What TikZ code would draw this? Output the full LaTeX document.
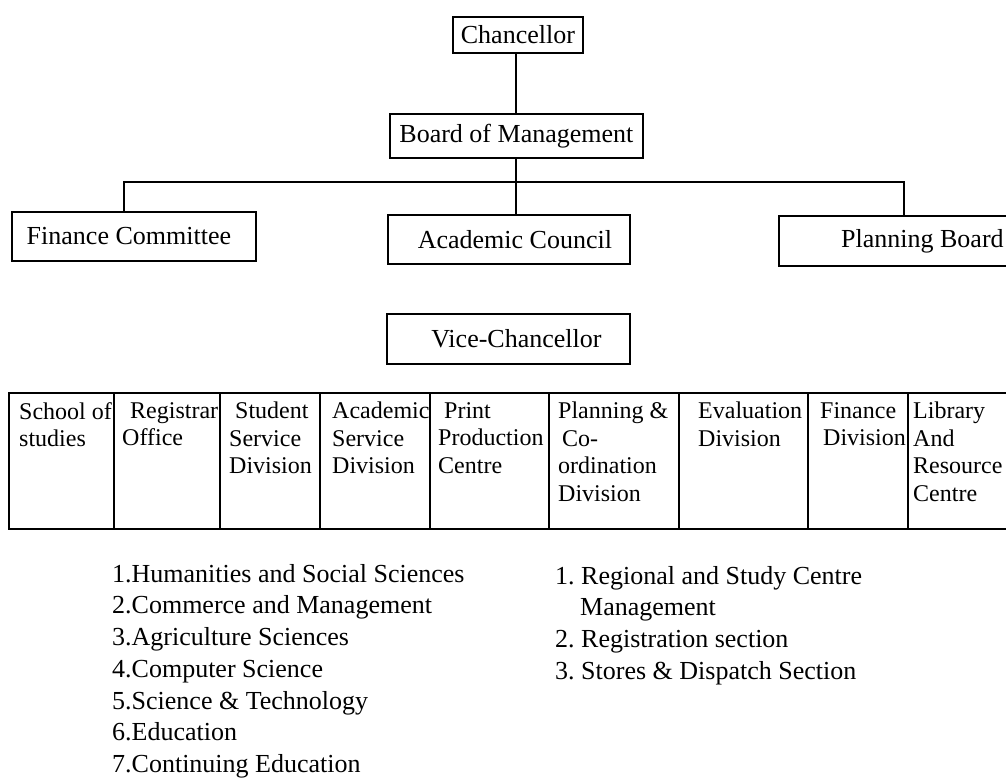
\documentclass[tikz,border=0pt]{standalone}
\usepackage{fontspec}
\setmainfont{Liberation Serif}
\frenchspacing
\begin{document}
\begin{tikzpicture}[x=1pt,y=-1pt,
  box/.style={draw, line width=1.8pt, rectangle, inner sep=0pt, anchor=north west,
    font=\fontsize{26}{30}\selectfont},
  link/.style={line width=2pt},
  cell/.style={draw, line width=1.8pt, rectangle, inner sep=0pt, anchor=north west,
    minimum height=136pt},
  celltxt/.style={anchor=north west, inner sep=0pt, align=left,
    font=\fontsize{24}{27.5}\selectfont, execute at begin node=\strut},
  listtxt/.style={anchor=north west, inner sep=0pt, align=left,
    font=\fontsize{26}{31.7}\selectfont, execute at begin node=\strut}
]
\useasboundingbox (0,0) rectangle (1006,779);
\clip (0,0) rectangle (1006,779);
\fill[white] (0,0) rectangle (1006,779);

% top hierarchy
\node[box, minimum width=130pt, minimum height=36pt] (chan) at (452,16) {Chancellor};
\node[box, minimum width=253pt, minimum height=44pt] (board) at (389,113) {Board of Management};
\node[box, minimum width=244pt, minimum height=49pt] (fin) at (11,211) {Finance Committee\hspace*{10pt}};
\node[box, minimum width=242pt, minimum height=49pt] (acad) at (387,214) {\hspace*{12pt}Academic Council};
\node[box, minimum width=262pt, minimum height=50pt] (plan) at (778,215) {\hspace*{62pt}Planning Board\hspace*{37pt}};
\node[box, minimum width=243pt, minimum height=50pt] (vc) at (386,313) {\hspace*{16pt}Vice-Chancellor};

\coordinate (barL) at (124,182);
\coordinate (barR) at (904,182);
\coordinate (barC) at (516,182);

\draw[link] (chan.south -| barC) -- (barC |- board.north);
\draw[link] (board.south -| barC) -- (barC);
\draw[link] (barL |- fin.north) -- (barL) -- (barR) -- (barR |- plan.north);
\draw[link] (barC) -- (barC |- acad.north);

% table of divisions
\node[cell, minimum width=105pt] (c1) at (8,392) {};
\node[cell, minimum width=106pt] (c2) at (113,392) {};
\node[cell, minimum width=100pt] (c3) at (219,392) {};
\node[cell, minimum width=110pt] (c4) at (319,392) {};
\node[cell, minimum width=119pt] (c5) at (429,392) {};
\node[cell, minimum width=130pt] (c6) at (548,392) {};
\node[cell, minimum width=129pt] (c7) at (678,392) {};
\node[cell, minimum width=100pt] (c8) at (807,392) {};
\node[cell, minimum width=123pt] (c9) at (907,392) {};

\node[celltxt] (t1) at ([xshift=11pt,yshift=-10pt]c1.north west) {School of\\studies};
\node[celltxt] (t2) at ([xshift=9pt,yshift=-10pt]c2.north west) {\hspace*{8pt}Registrar\\Office};
\node[celltxt] (t3) at ([xshift=10pt,yshift=-10pt]c3.north west) {\hspace*{6pt}Student\\Service\\Division};
\node[celltxt] (t4) at ([xshift=13pt,yshift=-10pt]c4.north west) {Academic\\Service\\Division};
\node[celltxt] (t5) at ([xshift=9pt,yshift=-10pt]c5.north west) {\hspace*{6pt}Print\\Production\\Centre};
\node[celltxt] (t6) at ([xshift=10pt,yshift=-10pt]c6.north west) {Planning \&\\\hspace*{4pt}Co-\\ordination\\Division};
\node[celltxt] (t7) at ([xshift=20pt,yshift=-10pt]c7.north west) {Evaluation\\Division};
\node[celltxt] (t8) at ([xshift=13pt,yshift=-10pt]c8.north west) {Finance\\\hspace*{3pt}Division};
\node[celltxt] (t9) at ([xshift=6pt,yshift=-10pt]c9.north west) {Library\\And\\Resource\\Centre};

% lists
\node[listtxt] (schools) at (112,564) {1.Humanities and Social Sciences\\2.Commerce and Management\\3.Agriculture Sciences\\4.Computer Science\\5.Science \& Technology\\6.Education\\7.Continuing Education};
\node[listtxt] (regsec) at (555,566) {1. Regional and Study Centre\\\hspace*{25pt}Management\\2. Registration section\\3. Stores \& Dispatch Section};
\end{tikzpicture}
\end{document}
